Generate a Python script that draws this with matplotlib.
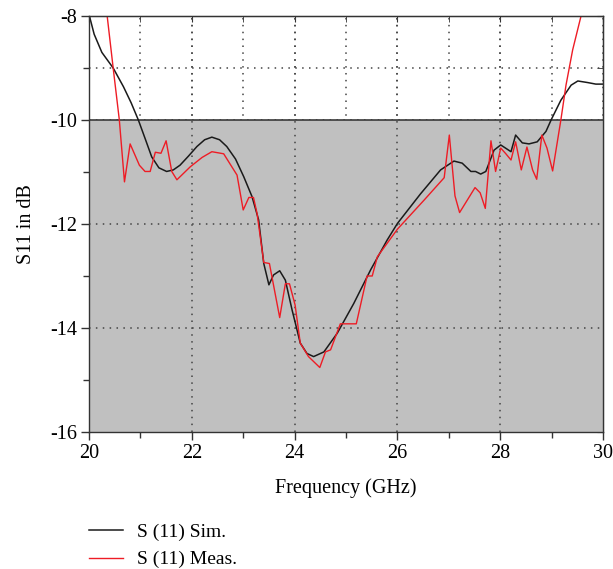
import numpy as np
import matplotlib
matplotlib.use('Agg')
import matplotlib.pyplot as plt
from matplotlib.ticker import MultipleLocator

plt.rcParams['font.family'] = ['Liberation Serif', 'DejaVu Serif']
plt.rcParams['axes.unicode_minus'] = False

# simulated S11 (black)
f_sim = [20.0, 20.1, 20.25, 20.47, 20.67, 20.82, 20.96, 21.1, 21.22, 21.36, 21.51, 21.64,
         21.77, 21.93, 22.1, 22.25, 22.39, 22.54, 22.68, 22.85, 23.01, 23.17, 23.3, 23.4,
         23.5, 23.59, 23.71, 23.82, 23.95, 24.11, 24.24, 24.37, 24.57, 24.83, 25.15, 25.48,
         25.8, 26.0, 26.45, 26.84, 27.1, 27.26, 27.43, 27.52, 27.62, 27.72, 27.88, 28.01,
         28.21, 28.3, 28.43, 28.56, 28.72, 28.89, 28.99, 29.18, 29.38, 29.51, 29.7, 29.86, 30.0]
s_sim = [-7.97, -8.35, -8.7, -9.0, -9.36, -9.67, -10.0, -10.38, -10.71, -10.92, -10.99, -10.96,
         -10.87, -10.7, -10.51, -10.38, -10.33, -10.38, -10.51, -10.75, -11.09, -11.47, -11.92, -12.76,
         -13.17, -12.98, -12.9, -13.08, -13.65, -14.29, -14.49, -14.55, -14.46, -14.1, -13.53, -12.88,
         -12.31, -11.99, -11.42, -10.96, -10.79, -10.83, -10.99, -10.99, -11.04, -10.99, -10.58, -10.48,
         -10.61, -10.29, -10.44, -10.46, -10.42, -10.22, -10.0, -9.62, -9.33, -9.25, -9.28, -9.31, -9.31]

# measured S11 (red)
f_meas = [20.33, 20.47, 20.59, 20.69, 20.8, 20.98, 21.09, 21.19, 21.29, 21.4, 21.5, 21.61,
          21.71, 21.97, 22.2, 22.39, 22.62, 22.88, 23.0, 23.11, 23.2, 23.27, 23.4, 23.51,
          23.71, 23.82, 23.9, 24.01, 24.11, 24.27, 24.49, 24.6, 24.7, 24.89, 25.2, 25.41,
          25.51, 25.61, 26.0, 26.52, 26.91, 27.01, 27.12, 27.21, 27.36, 27.51, 27.61, 27.71,
          27.82, 27.91, 28.01, 28.11, 28.21, 28.3, 28.41, 28.52, 28.63, 28.71, 28.81, 28.91,
          29.02, 29.18, 29.28, 29.41, 29.57, 29.65]
s_meas = [-7.8, -9.0, -10.0, -11.19, -10.46, -10.87, -10.99, -10.99, -10.62, -10.64, -10.4, -10.99,
          -11.15, -10.9, -10.72, -10.61, -10.65, -11.06, -11.73, -11.49, -11.49, -11.8, -12.74, -12.76,
          -13.8, -13.15, -13.15, -13.56, -14.29, -14.55, -14.76, -14.46, -14.42, -13.92, -13.92, -13.0,
          -13.0, -12.63, -12.1, -11.54, -11.11, -10.29, -11.46, -11.78, -11.54, -11.3, -11.4, -11.7,
          -10.4, -10.99, -10.54, -10.65, -10.77, -10.42, -10.96, -10.52, -10.96, -11.14, -10.29, -10.54,
          -10.98, -10.0, -9.33, -8.65, -8.01, -7.8]

x_major = [20, 22, 24, 26, 28, 30]
y_major = [-16, -14, -12, -10, -8]

fig = plt.figure(figsize=(6.13, 5.69), dpi=100)
ax = fig.add_axes([0.1452, 0.2408, 0.8385, 0.7311])

ax.set_xlim(20, 30)
ax.set_ylim(-16, -8)
ax.set_xticks(x_major)
ax.set_yticks(y_major)
ax.xaxis.set_minor_locator(MultipleLocator(1))
ax.yaxis.set_minor_locator(MultipleLocator(1))

# minor grid sits under the grey band, major grid on top of it
dots = (0, (1, 3.5))
ax.set_axisbelow(True)
ax.grid(which='both', color='#444444', linestyle=dots, linewidth=1.1)
ax.axhspan(-16, -10, facecolor='#c0c0c0', edgecolor='none', zorder=1)
ax.axhline(-10, color='#3a3a3a', linewidth=1.2, zorder=1.6)
for xv in x_major[1:-1]:
    ax.axvline(xv, color='#444444', linestyle=dots, linewidth=1.1, zorder=1.5)
for yv in [-14, -12]:
    ax.axhline(yv, color='#444444', linestyle=dots, linewidth=1.1, zorder=1.5)

ax.plot(f_sim, s_sim, color='#1a1a1a', linewidth=1.1, zorder=3, label='S (11) Sim.')
ax.plot(f_meas, s_meas, color='#ee1c25', linewidth=1.0, zorder=3, label='S (11) Meas.')

for sp in ax.spines.values():
    sp.set_color('#333333')
    sp.set_linewidth(1.0)
    sp.set_zorder(4)

ax.tick_params(which='major', direction='out', length=5.5, width=1, color='#333333',
               labelsize=14.5, pad=3)
ax.tick_params(which='minor', direction='out', length=4, width=1, color='#333333')

secx = ax.secondary_xaxis('top')
secx.set_xticks(x_major)
secx.xaxis.set_minor_locator(MultipleLocator(1))
secx.tick_params(which='both', direction='in', labeltop=False, length=4, color='#333333')
secy = ax.secondary_yaxis('right')
secy.set_yticks(y_major)
secy.yaxis.set_minor_locator(MultipleLocator(1))
secy.tick_params(which='both', direction='in', labelright=False, length=4, color='#333333')

ax.set_xlabel('Frequency (GHz)', fontsize=14.5, labelpad=11)
ax.set_ylabel('S11 in dB', fontsize=14.5, labelpad=10)

handles, labels = ax.get_legend_handles_labels()
fig.legend(handles, labels, loc='center left', bbox_to_anchor=(89 / 613, 0.0405),
           frameon=False, fontsize=14, handlelength=1.75, handletextpad=0.72,
           labelspacing=0.49, borderpad=0, borderaxespad=0)

fig.savefig('out.png', dpi=100)
